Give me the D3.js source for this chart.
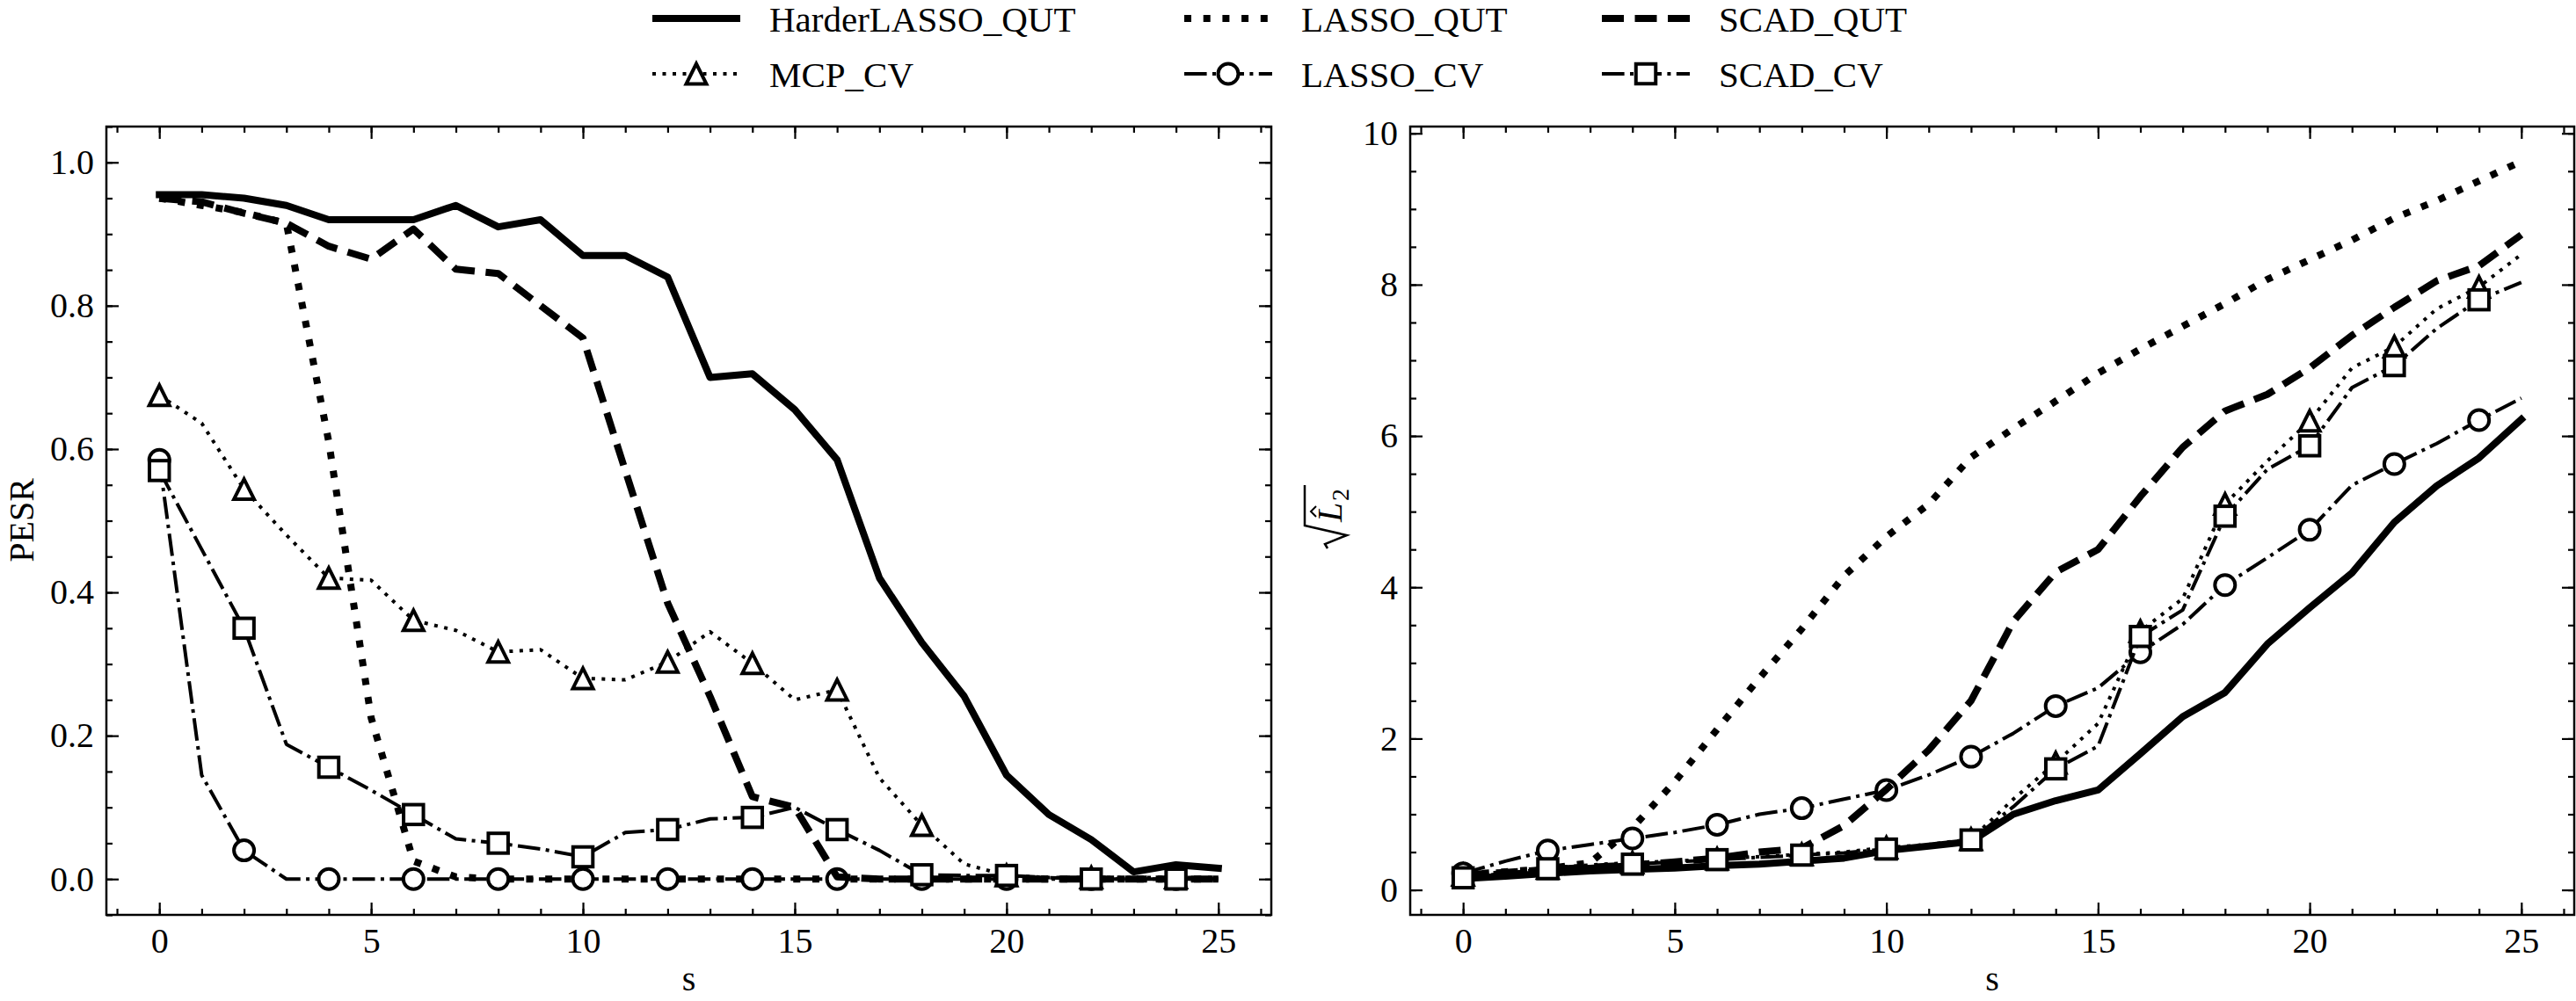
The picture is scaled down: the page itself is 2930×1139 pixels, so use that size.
<!DOCTYPE html>
<html>
<head>
<meta charset="utf-8">
<script src="https://cdn.jsdelivr.net/npm/d3@7/dist/d3.min.js"></script>
<style>
  body { margin: 0; background: #fff; }
  text { font-family: "Liberation Serif", "DejaVu Serif", serif; fill: #000; }
</style>
</head>
<body>
<script>
// sparsity level s, shared by both panels
var sValues = [0, 1, 2, 3, 4, 5, 6, 7, 8, 9, 10, 11, 12, 13, 14, 15, 16, 17, 18, 19, 20, 21, 22, 23, 24, 25];

// tick labels
var xTicks = [0, 5, 10, 15, 20, 25];
var pesrTicks = [0.0, 0.2, 0.4, 0.6, 0.8, 1.0];
var l2Ticks = [0, 2, 4, 6, 8, 10];

// left panel: PESR
var pesrHarderQut = [0.955, 0.955, 0.95, 0.94, 0.92, 0.92, 0.92, 0.94, 0.91, 0.92, 0.87, 0.87, 0.84, 0.70, 0.705, 0.655, 0.585, 0.42, 0.33, 0.255, 0.145, 0.09, 0.055, 0.01, 0.02, 0.015];
var pesrLassoQut = [0.95, 0.94, 0.93, 0.915, 0.61, 0.225, 0.025, 0.003, 0, 0, 0, 0, 0, 0, 0, 0, 0, 0, 0, 0, 0, 0, 0, 0, 0, 0];
var pesrScadQut = [0.95, 0.945, 0.929, 0.915, 0.883, 0.865, 0.907, 0.851, 0.845, 0.80, 0.755, 0.57, 0.385, 0.255, 0.115, 0.10, 0.003, 0, 0, 0, 0, 0, 0, 0, 0, 0];
var pesrMcpCv = [0.675, 0.636, 0.544, 0.48, 0.42, 0.417, 0.361, 0.347, 0.317, 0.32, 0.28, 0.278, 0.303, 0.345, 0.301, 0.25, 0.264, 0.141, 0.075, 0.021, 0.005, 0.002, 0.002, 0.002, 0.002, 0.002];
var pesrLassoCv = [0.585, 0.145, 0.04, 0, 0, 0, 0, 0, 0, 0, 0, 0, 0, 0, 0, 0, 0, 0, 0, 0, 0, 0, 0, 0, 0, 0];
var pesrScadCv = [0.57, 0.46, 0.35, 0.188, 0.156, 0.124, 0.09, 0.056, 0.05, 0.042, 0.031, 0.065, 0.069, 0.084, 0.086, 0.10, 0.069, 0.04, 0.006, 0.005, 0.005, 0.002, 0, 0, 0, 0];

// right panel: sqrt(L2 hat)
var l2HarderQut = [0.15, 0.18, 0.22, 0.25, 0.27, 0.29, 0.32, 0.34, 0.38, 0.42, 0.52, 0.58, 0.64, 1.0, 1.18, 1.32, 1.8, 2.29, 2.61, 3.25, 3.73, 4.19, 4.86, 5.34, 5.71, 6.22];
var l2LassoQut = [0.2, 0.24, 0.28, 0.36, 0.82, 1.43, 2.12, 2.8, 3.45, 4.15, 4.67, 5.1, 5.72, 6.1, 6.46, 6.83, 7.15, 7.45, 7.75, 8.07, 8.33, 8.59, 8.88, 9.11, 9.37, 9.63];
var l2ScadQut = [0.2, 0.23, 0.27, 0.3, 0.33, 0.37, 0.42, 0.5, 0.55, 0.85, 1.33, 1.85, 2.5, 3.55, 4.2, 4.5, 5.2, 5.85, 6.33, 6.55, 6.9, 7.33, 7.7, 8.05, 8.25, 8.66];
var l2McpCv = [0.2, 0.24, 0.29, 0.33, 0.36, 0.38, 0.41, 0.44, 0.47, 0.5, 0.56, 0.6, 0.67, 1.2, 1.68, 2.2, 3.42, 3.85, 5.1, 5.67, 6.2, 6.9, 7.18, 7.68, 7.97, 8.4];
var l2LassoCv = [0.22, 0.38, 0.52, 0.6, 0.68, 0.76, 0.86, 1.0, 1.08, 1.2, 1.32, 1.52, 1.76, 2.07, 2.43, 2.67, 3.14, 3.51, 4.03, 4.39, 4.76, 5.35, 5.63, 5.9, 6.21, 6.5];
var l2ScadCv = [0.16, 0.22, 0.28, 0.31, 0.34, 0.37, 0.40, 0.43, 0.46, 0.49, 0.54, 0.58, 0.66, 1.1, 1.6, 1.9, 3.35, 3.7, 4.94, 5.56, 5.87, 6.64, 6.93, 7.42, 7.8, 8.03];

// legend order (column by column) is also the drawing order
var seriesNames = ["HarderLASSO_QUT", "MCP_CV", "LASSO_QUT", "LASSO_CV", "SCAD_QUT", "SCAD_CV"];

var pesrData = {
  "HarderLASSO_QUT": pesrHarderQut, "MCP_CV": pesrMcpCv, "LASSO_QUT": pesrLassoQut,
  "LASSO_CV": pesrLassoCv, "SCAD_QUT": pesrScadQut, "SCAD_CV": pesrScadCv
};
var l2Data = {
  "HarderLASSO_QUT": l2HarderQut, "MCP_CV": l2McpCv, "LASSO_QUT": l2LassoQut,
  "LASSO_CV": l2LassoCv, "SCAD_QUT": l2ScadQut, "SCAD_CV": l2ScadCv
};

// line styles
var styles = {
  "HarderLASSO_QUT": {width: 8, dash: null, cap: "square", marker: null},
  "LASSO_QUT": {width: 8, dash: "8,13.7", cap: "butt", marker: null},
  "SCAD_QUT": {width: 8, dash: "25,12.5", cap: "butt", marker: null},
  "MCP_CV": {width: 4, dash: "4,7.5", cap: "butt", marker: "triangle"},
  "LASSO_CV": {width: 4, dash: "25.6,6.4,4,6.4", cap: "butt", marker: "circle"},
  "SCAD_CV": {width: 4, dash: "25.6,6.4,4,6.4", cap: "butt", marker: "square"}
};

var svg = d3.select("body").append("svg")
  .attr("width", 2930)
  .attr("height", 1139);

// draw one marker centred at (cx, cy)
function drawMarker(g, type, cx, cy) {
  if (type == "circle") {
    g.append("circle").attr("cx", cx).attr("cy", cy).attr("r", 11.5)
      .attr("fill", "#fff").attr("stroke", "#000").attr("stroke-width", 4);
  }
  if (type == "square") {
    g.append("rect").attr("x", cx - 11.25).attr("y", cy - 11.25)
      .attr("width", 22.5).attr("height", 22.5)
      .attr("fill", "#fff").attr("stroke", "#000").attr("stroke-width", 4);
  }
  if (type == "triangle") {
    var h = 11.5;
    g.append("path")
      .attr("d", "M" + cx + "," + (cy - h) + "L" + (cx - h) + "," + (cy + h) + "L" + (cx + h) + "," + (cy + h) + "Z")
      .attr("fill", "#fff").attr("stroke", "#000").attr("stroke-width", 4)
      .attr("stroke-linejoin", "miter");
  }
}

function drawPanel(box, yDomain, yTicks, yMinor, yFormat, data) {
  var x = d3.scaleLinear().domain([-1.25, 26.25]).range([box.left, box.right]);
  var y = d3.scaleLinear().domain(yDomain).range([box.bottom, box.top]);
  var g = svg.append("g");

  // lines and markers
  seriesNames.forEach(function(name) {
    var st = styles[name];
    var values = data[name];
    var line = d3.line()
      .x(function(d, i) { return x(sValues[i]); })
      .y(function(d) { return y(d); });
    g.append("path")
      .datum(values)
      .attr("d", line)
      .attr("fill", "none")
      .attr("stroke", "#000")
      .attr("stroke-width", st.width)
      .attr("stroke-dasharray", st.dash)
      .attr("stroke-linecap", st.cap)
      .attr("stroke-linejoin", "round");
    if (st.marker) {
      values.forEach(function(v, i) {
        if (sValues[i] % 2 == 0) drawMarker(g, st.marker, x(sValues[i]), y(v));
      });
    }
  });

  var xMinor = d3.range(-1, 27);

  // major and minor ticks on all four sides, pointing inwards
  function styleAxis(a) {
    a.select(".domain").remove();
    a.selectAll(".tick line").attr("stroke-width", 2.2);
    a.attr("font-family", null).attr("font-size", 40);
  }
  g.append("g").attr("transform", "translate(0," + box.bottom + ")")
    .call(d3.axisBottom(x).tickValues(xTicks).tickSize(-14).tickPadding(15).tickFormat(d3.format("d")))
    .call(styleAxis);
  g.append("g").attr("transform", "translate(0," + box.bottom + ")")
    .call(d3.axisBottom(x).tickValues(xMinor).tickSize(-7).tickFormat(""))
    .call(styleAxis);
  g.append("g").attr("transform", "translate(0," + box.top + ")")
    .call(d3.axisTop(x).tickValues(xTicks).tickSize(-14).tickFormat(""))
    .call(styleAxis);
  g.append("g").attr("transform", "translate(0," + box.top + ")")
    .call(d3.axisTop(x).tickValues(xMinor).tickSize(-7).tickFormat(""))
    .call(styleAxis);
  g.append("g").attr("transform", "translate(" + box.left + ",0)")
    .call(d3.axisLeft(y).tickValues(yTicks).tickSize(-14).tickPadding(14).tickFormat(yFormat))
    .call(styleAxis);
  g.append("g").attr("transform", "translate(" + box.left + ",0)")
    .call(d3.axisLeft(y).tickValues(yMinor).tickSize(-7).tickFormat(""))
    .call(styleAxis);
  g.append("g").attr("transform", "translate(" + box.right + ",0)")
    .call(d3.axisRight(y).tickValues(yTicks).tickSize(-14).tickFormat(""))
    .call(styleAxis);
  g.append("g").attr("transform", "translate(" + box.right + ",0)")
    .call(d3.axisRight(y).tickValues(yMinor).tickSize(-7).tickFormat(""))
    .call(styleAxis);

  // frame
  g.append("rect")
    .attr("x", box.left).attr("y", box.top)
    .attr("width", box.right - box.left).attr("height", box.bottom - box.top)
    .attr("fill", "none").attr("stroke", "#000").attr("stroke-width", 2.5);

  // x label
  g.append("text")
    .attr("x", (box.left + box.right) / 2).attr("y", 1127)
    .attr("text-anchor", "middle").attr("font-size", 40)
    .text("s");
}

var leftBox = {left: 121, right: 1446, top: 144, bottom: 1041};
var rightBox = {left: 1604, right: 2928, top: 144, bottom: 1041};

drawPanel(leftBox, [-0.05, 1.05], pesrTicks,
  d3.range(-0.05, 1.0501, 0.05), d3.format(".1f"), pesrData);
drawPanel(rightBox, [-0.33, 10.09], l2Ticks,
  d3.range(0, 10.01, 0.5), d3.format("d"), l2Data);

// y label left
svg.append("text")
  .attr("transform", "translate(38,592) rotate(-90)")
  .attr("text-anchor", "middle").attr("font-size", 40)
  .text("PESR");

// y label right: sqrt of L-hat sub 2
var lab = svg.append("g").attr("transform", "translate(1526,588) rotate(-90)");
lab.append("path")
  .attr("d", "M-36,-16L-31,-19L-21,6L-10,-42L36,-42")
  .attr("fill", "none").attr("stroke", "#000").attr("stroke-width", 2.5)
  .attr("stroke-linejoin", "miter");
lab.append("text").attr("x", -6).attr("y", 0)
  .attr("font-size", 40).attr("font-style", "italic").text("L");
lab.append("path")
  .attr("d", "M0,-29L6,-35L12,-29")
  .attr("fill", "none").attr("stroke", "#000").attr("stroke-width", 2);
lab.append("text").attr("x", 18).attr("y", 8)
  .attr("font-size", 28).text("2");

// legend
var legendCols = [742, 1347, 1822];
var legendRows = [21, 84];
var legend = svg.append("g");
seriesNames.forEach(function(name, i) {
  var st = styles[name];
  var lx = legendCols[Math.floor(i / 2)];
  var ly = legendRows[i % 2];
  legend.append("line")
    .attr("x1", lx).attr("x2", lx + 100)
    .attr("y1", ly).attr("y2", ly)
    .attr("stroke", "#000")
    .attr("stroke-width", st.width)
    .attr("stroke-dasharray", st.dash)
    .attr("stroke-linecap", st.cap == "square" ? "butt" : st.cap);
  if (st.marker) drawMarker(legend, st.marker, lx + 50, ly);
  legend.append("text")
    .attr("x", lx + 133).attr("y", ly + 15)
    .attr("font-size", 41)
    .text(name);
});
</script>
</body>
</html>
